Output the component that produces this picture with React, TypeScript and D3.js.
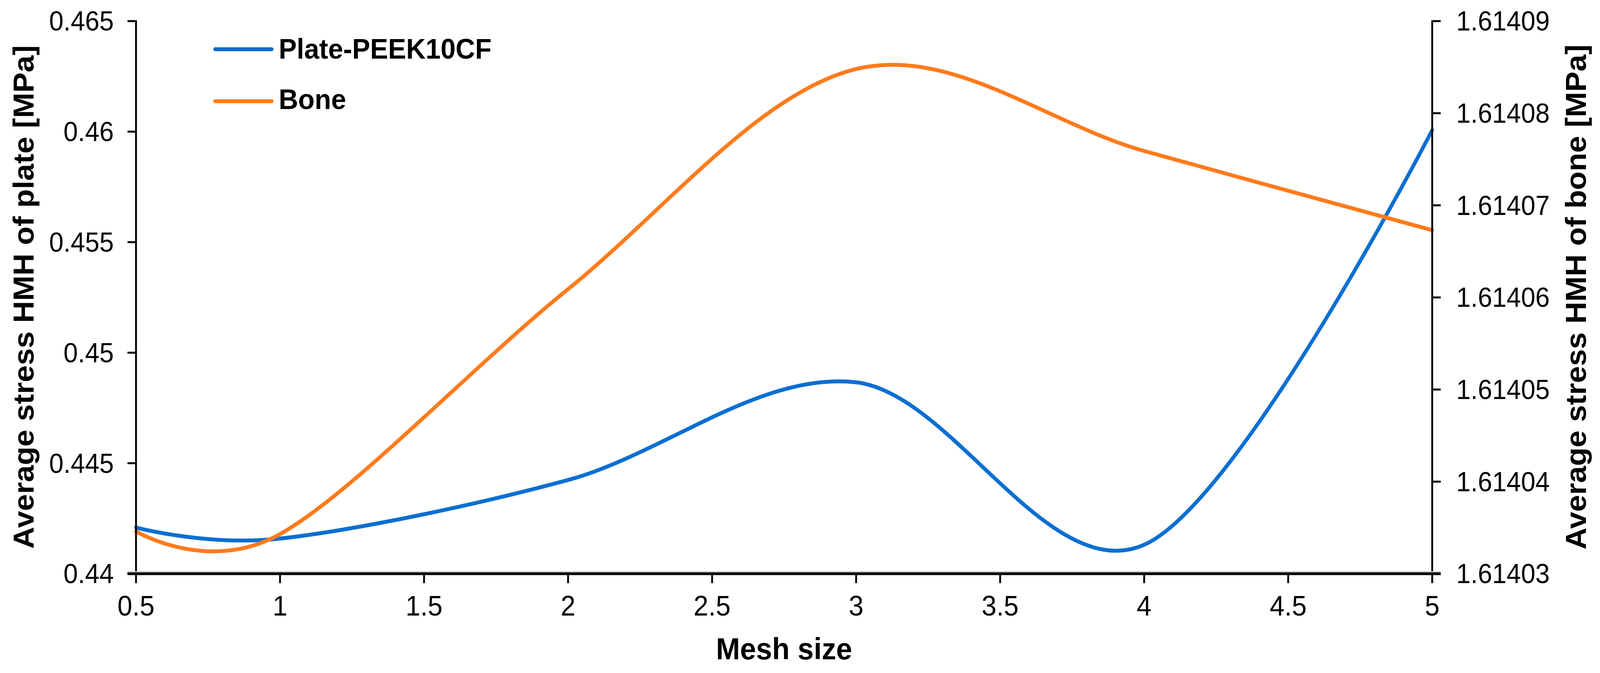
import React, { useEffect } from "react";
import * as d3 from "d3";

const meshSize = [0.5, 1, 2, 3, 4, 5];
const plateStress = [0.44209, 0.44159, 0.44424, 0.44866, 0.44131, 0.46007];
const boneStress = [1.6140346, 1.6140343, 1.6140609, 1.6140848, 1.6140759, 1.6140673];

const xTicks = [0.5, 1, 1.5, 2, 2.5, 3, 3.5, 4, 4.5, 5];
const xTickLabels = ["0.5", "1", "1.5", "2", "2.5", "3", "3.5", "4", "4.5", "5"];
const leftTicks = [0.44, 0.445, 0.45, 0.455, 0.46, 0.465];
const leftTickLabels = ["0.44", "0.445", "0.45", "0.455", "0.46", "0.465"];
const rightTicks = [1.61403, 1.61404, 1.61405, 1.61406, 1.61407, 1.61408, 1.61409];
const rightTickLabels = ["1.61403", "1.61404", "1.61405", "1.61406", "1.61407", "1.61408", "1.61409"];

const seriesNames = ["Plate-PEEK10CF", "Bone"];
const seriesColors = ["#0a6fd1", "#ff7b1c"];

const W = 4329;
const H = 1722;
const M = { left: 368, right: 3875, top: 54, bottom: 1468 };
const FONT = "'Liberation Sans', Arial, sans-serif";

export default function App() {
  useEffect(() => {
    document.body.style.margin = "0";
    document.body.style.overflow = "hidden";
    document.documentElement.style.overflow = "hidden";
  }, []);

  const x = d3.scaleLinear().domain([0.5, 5]).range([M.left, M.right]);
  const yL = d3.scaleLinear().domain([0.44, 0.465]).range([M.bottom, M.top]);
  const yR = d3.scaleLinear().domain([1.61403, 1.61409]).range([M.bottom, M.top]);

  const curve = d3.curveCardinal.tension(0);
  const platePath = d3
    .line<number>()
    .x((_, i) => x(meshSize[i]))
    .y((d) => yL(d))
    .curve(curve)(plateStress) as string;
  const bonePath = d3
    .line<number>()
    .x((_, i) => x(meshSize[i]))
    .y((d) => yR(d))
    .curve(curve)(boneStress) as string;

  const tickLen = 23;
  return (
    <svg
      viewBox={`0 0 ${W} ${H}`}
      preserveAspectRatio="none"
      style={{ position: "fixed", left: 0, top: 0, width: "100vw", height: "100vh", display: "block", background: "#fff" }}
      fontFamily={FONT}
    >
      <rect x={0} y={0} width={W} height={H} fill="#fff" />
      {/* series */}
      <path d={platePath} fill="none" stroke={seriesColors[0]} strokeWidth={10} strokeLinecap="round" />
      <path d={bonePath} fill="none" stroke={seriesColors[1]} strokeWidth={10} strokeLinecap="round" />

      {/* left axis */}
      <line x1={M.left} x2={M.left} y1={M.top - 2} y2={M.bottom} stroke="#000" strokeWidth={5} />
      {leftTicks.map((t, i) => (
        <g key={"l" + i}>
          <line x1={M.left - tickLen} x2={M.left} y1={yL(t)} y2={yL(t)} stroke="#000" strokeWidth={5} />
          <text x={M.left - 60} y={yL(t)} dy="0.35em" textAnchor="end" fontSize={70}>
            {leftTickLabels[i]}
          </text>
        </g>
      ))}

      {/* right axis */}
      <line x1={M.right} x2={M.right} y1={M.top - 2} y2={M.bottom + 24} stroke="#000" strokeWidth={5} />
      {rightTicks.map((t, i) => (
        <g key={"r" + i}>
          <line x1={M.right} x2={M.right + tickLen} y1={yR(t)} y2={yR(t)} stroke="#000" strokeWidth={5} />
          <text x={M.right + 65} y={yR(t)} dy="0.35em" textAnchor="start" fontSize={70}>
            {rightTickLabels[i]}
          </text>
        </g>
      ))}

      {/* bottom axis */}
      <line x1={M.left - tickLen} x2={M.right + tickLen} y1={M.bottom - 5} y2={M.bottom - 5} stroke="#c8c8c8" strokeWidth={3} />
      <line x1={M.left - tickLen} x2={M.right + tickLen} y1={M.bottom} y2={M.bottom} stroke="#000" strokeWidth={7} />
      {xTicks.map((t, i) => (
        <g key={"x" + i}>
          <line x1={x(t)} x2={x(t)} y1={M.bottom} y2={M.bottom + 24} stroke="#000" strokeWidth={5} />
          <text x={x(t)} y={1575} textAnchor="middle" fontSize={72}>
            {xTickLabels[i]}
          </text>
        </g>
      ))}

      {/* axis titles */}
      <text x={(M.left + M.right) / 2} y={1687} textAnchor="middle" fontSize={78} fontWeight="bold">
        Mesh size
      </text>
      <text transform={`translate(91, 760) rotate(-90)`} textAnchor="middle" fontSize={78} fontWeight="bold">
        Average stress HMH of plate [MPa]
      </text>
      <text transform={`translate(4291, 760) rotate(-90)`} textAnchor="middle" fontSize={78} fontWeight="bold">
        Average stress HMH of bone [MPa]
      </text>

      {/* legend */}
      {seriesNames.map((n, i) => (
        <g key={"lg" + i}>
          <line x1={582} x2={735} y1={126 + i * 133} y2={126 + i * 133} stroke={seriesColors[i]} strokeWidth={10} strokeLinecap="round" />
          <text x={754} y={150 + i * 129} fontSize={73} fontWeight="bold">
            {n}
          </text>
        </g>
      ))}
    </svg>
  );
}
